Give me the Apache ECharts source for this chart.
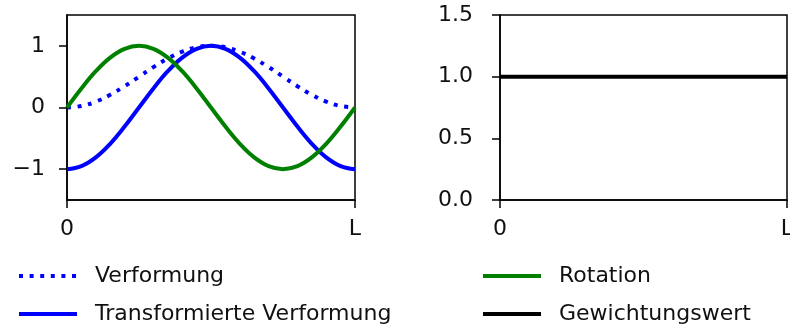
<!DOCTYPE html>
<html>
<head>
<meta charset="utf-8">
<script src="https://cdn.jsdelivr.net/npm/echarts@6/dist/echarts.min.js"></script>
<style>
  html, body { margin: 0; padding: 0; background: #fff; }
  #chart { width: 790px; height: 331px; }
</style>
</head>
<body>
<div id="chart"></div>
<script>
// Stützstellen entlang des Balkens (0 .. L)
const xs = [0, 0.05, 0.1, 0.15, 0.2, 0.25, 0.3, 0.35, 0.4, 0.45, 0.5,
            0.55, 0.6, 0.65, 0.7, 0.75, 0.8, 0.85, 0.9, 0.95, 1];
const verformung = [0, 0.024, 0.095, 0.206, 0.345, 0.5, 0.655, 0.794, 0.905, 0.976, 1,
                    0.976, 0.905, 0.794, 0.655, 0.5, 0.345, 0.206, 0.095, 0.024, 0];
const transformiert = [-1, -0.951, -0.809, -0.588, -0.309, 0, 0.309, 0.588, 0.809, 0.951, 1,
                       0.951, 0.809, 0.588, 0.309, 0, -0.309, -0.588, -0.809, -0.951, -1];
const rotation = [0, 0.309, 0.588, 0.809, 0.951, 1, 0.951, 0.809, 0.588, 0.309, 0,
                  -0.309, -0.588, -0.809, -0.951, -1, -0.951, -0.809, -0.588, -0.309, 0];
const gewichtX = [0, 1];
const gewichtung = [1, 1];

const xTicks = [0, 1];
const xTickLabels = ['0', 'L'];
const yTicksLeft = [-1, 0, 1];
const yTicksRight = [0, 0.5, 1, 1.5];

const font = 'DejaVu Sans';
const pair = (x, y) => x.map((v, i) => [v, y[i]]);

const chart = echarts.init(document.getElementById('chart'));

const xAxisBase = {
  type: 'value', min: 0, max: 1,
  axisLine: { show: true, onZero: false, lineStyle: { color: '#000', width: 1.5 } },
  axisTick: { show: true, length: 8, lineStyle: { color: '#000', width: 1.5 }, customValues: xTicks },
  axisLabel: {
    show: true, margin: 18, color: '#111', fontFamily: font, fontSize: 22,
    customValues: xTicks,
    formatter: v => xTickLabels[xTicks.indexOf(v)]
  },
  splitLine: { show: false }
};

const legendBase = {
  orient: 'vertical', top: 265, padding: 0, itemGap: 16,
  itemWidth: 58, itemHeight: 14,
  itemStyle: { opacity: 0 },
  lineStyle: { width: 4 },
  textStyle: { fontSize: 22, color: '#111', fontFamily: font, padding: [0, 0, 0, 13] }
};

const option = {
  animation: false,
  textStyle: { fontFamily: font },
  grid: [
    { left: 67, top: 15, width: 288, height: 185, show: true, borderColor: '#000', borderWidth: 1.5, outerBoundsMode: 'none' },
    { left: 500, top: 15, width: 287, height: 185, show: true, borderColor: '#000', borderWidth: 1.5, outerBoundsMode: 'none' }
  ],
  xAxis: [
    Object.assign({ gridIndex: 0 }, xAxisBase),
    Object.assign({ gridIndex: 1 }, xAxisBase)
  ],
  yAxis: [
    {
      gridIndex: 0, type: 'value', min: -1.5, max: 1.5,
      axisLine: { show: true, onZero: false, lineStyle: { color: '#000', width: 1.5 } },
      axisTick: { show: true, length: 8, lineStyle: { color: '#000', width: 1.5 }, customValues: yTicksLeft },
      axisLabel: {
        margin: 22, color: '#111', fontFamily: font, fontSize: 22,
        customValues: yTicksLeft,
        formatter: v => v < 0 ? '\u2212' + Math.abs(v) : String(v)
      },
      splitLine: { show: false }
    },
    {
      gridIndex: 1, type: 'value', min: 0, max: 1.5, interval: 0.5,
      axisLine: { show: true, onZero: false, lineStyle: { color: '#000', width: 1.5 } },
      axisTick: { show: true, length: 8, lineStyle: { color: '#000', width: 1.5 }, customValues: yTicksRight },
      axisLabel: {
        margin: 27, color: '#111', fontFamily: font, fontSize: 22,
        customValues: yTicksRight,
        formatter: v => v.toFixed(1)
      },
      splitLine: { show: false }
    }
  ],
  legend: [
    Object.assign({ data: ['Verformung', 'Transformierte Verformung'], left: 17 }, legendBase),
    Object.assign({ data: ['Rotation', 'Gewichtungswert'], left: 481 }, legendBase)
  ],
  series: [
    {
      name: 'Verformung', type: 'line', xAxisIndex: 0, yAxisIndex: 0,
      data: pair(xs, verformung), smooth: 0.4, symbol: 'none',
      lineStyle: { color: '#0000ff', width: 4, type: [4, 6.6], cap: 'butt' },
      itemStyle: { color: '#0000ff' }
    },
    {
      name: 'Transformierte Verformung', type: 'line', xAxisIndex: 0, yAxisIndex: 0,
      data: pair(xs, transformiert), smooth: 0.4, symbol: 'none',
      lineStyle: { color: '#0000ff', width: 4 },
      itemStyle: { color: '#0000ff' }
    },
    {
      name: 'Rotation', type: 'line', xAxisIndex: 0, yAxisIndex: 0,
      data: pair(xs, rotation), smooth: 0.4, symbol: 'none',
      lineStyle: { color: '#008000', width: 4 },
      itemStyle: { color: '#008000' }
    },
    {
      name: 'Gewichtungswert', type: 'line', xAxisIndex: 1, yAxisIndex: 1,
      data: pair(gewichtX, gewichtung), symbol: 'none',
      lineStyle: { color: '#000', width: 4 },
      itemStyle: { color: '#000' }
    }
  ]
};

chart.setOption(option);
</script>
</body>
</html>
